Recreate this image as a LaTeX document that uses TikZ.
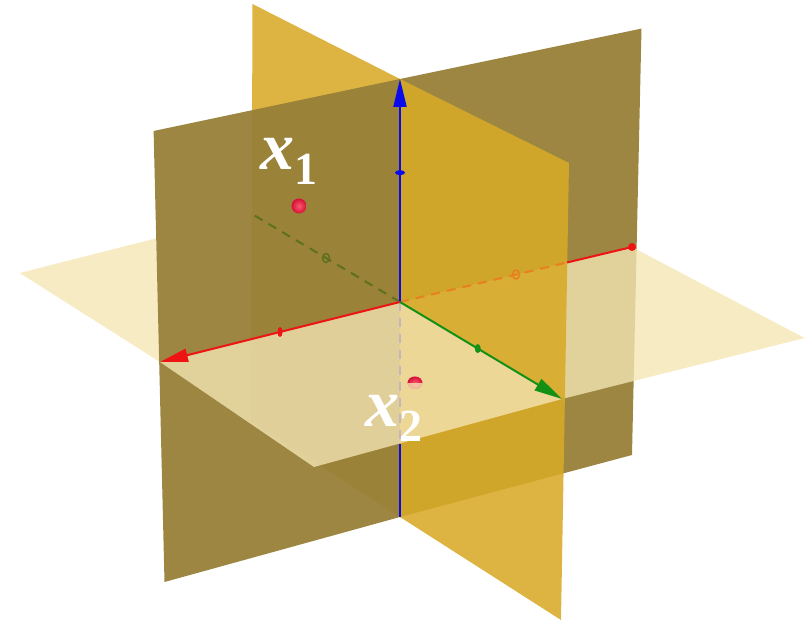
\documentclass[tikz,border=0pt]{standalone}
\usepackage{fontspec}
\setmainfont{Liberation Serif}
\usepackage{xcolor}
\usepackage{tikz}
\usetikzlibrary{arrows.meta,calc}
\definecolor{dkplane}{RGB}{151,128,56}
\definecolor{ylplane}{RGB}{216,170,39}
\definecolor{hzplane}{RGB}{245,229,180}
\definecolor{axx}{RGB}{238,20,20}
\definecolor{axxhid}{RGB}{232,128,32}
\definecolor{axy}{RGB}{20,145,20}
\definecolor{axyhid}{RGB}{92,112,30}
\definecolor{axz}{RGB}{10,10,235}
\definecolor{ptred}{RGB}{215,15,55}
\definecolor{ptlight}{RGB}{250,90,110}
\newcommand{\ptlabel}[1]{{\bfseries\itshape x}\raisebox{-0.22em}{\fontsize{46}{46}\selectfont\bfseries #1}}
\tikzset{
  dkface/.style  = {fill=dkplane, fill opacity=0.95},
  ylface/.style  = {fill=ylplane, fill opacity=0.88},
  hzface/.style  = {fill=hzplane, fill opacity=0.79},
  axis/.style    = {line width=2pt},
  tip/.style     = {-{Triangle[length=28pt,width=13pt]}},
  hidaxis/.style = {line width=2pt, dash pattern=on 9pt off 7pt},
  sphere/.style  = {inner color=ptlight, outer color=ptred},
  lbl/.style     = {text=white, font=\fontsize{68}{68}\selectfont, inner sep=0pt},
}

\begin{document}
\begin{tikzpicture}[x=1pt,y=-1pt]
  \useasboundingbox (0,0) rectangle (807,620);
  \coordinate (O) at (400,302);
  \coordinate (Ztop) at (400,79);   \coordinate (Zbot) at (400,517);
  \coordinate (Xp) at (160,362);    \coordinate (Xm) at (632,247);
  \coordinate (Yp) at (562,399);    \coordinate (Ym) at (252,214);
  \coordinate (DTL) at (153.6,131); \coordinate (DTR) at (641.5,28.6);
  \coordinate (DBR) at (632,455);   \coordinate (DBL) at (164.5,582);
  \coordinate (YTL) at (252.5,4);   \coordinate (YTR) at (569,163);
  \coordinate (YBR) at (561,620);   \coordinate (YBL) at (251,421);
  \coordinate (HL) at (19.7,273);   \coordinate (HR) at (804.5,338);
  \coordinate (HF) at (314,467);    \coordinate (HLcut) at (156.2,238.3);
  \coordinate (Xcut) at (567,262.5); \coordinate (Zcut) at (400,444);
  \coordinate (P1) at (299,206);    \coordinate (P2) at (415,383);

  \fill[dkface] (Ztop) -- (DTR) -- (DBR) -- (Zbot) -- cycle;
  \fill[ylface] (YTL) -- (Ztop) -- (Zbot) -- (YBL) -- cycle;
  \fill[hzface] (O) -- (Yp) -- (HR) -- (Xm) -- cycle;
  \fill[hzface] (HLcut) -- (HL) -- (Xp) -- cycle;
  \fill[dkface] (DTL) -- (Ztop) -- (Zbot) -- (DBL) -- cycle;
  \fill[ylface] (Ztop) -- (YTR) -- (YBR) -- (Zbot) -- cycle;

  \draw[hidaxis, axyhid] (O) -- (Ym);
  \draw[axyhid, line width=1.5pt] ($(O)!0.5!(Ym)$) ellipse (3.5 and 4.5);
  \draw[hidaxis, axxhid] (O) -- (Xcut);
  \draw[axxhid, line width=1.5pt] ($(O)!0.5!(Xm)$) ellipse (3.5 and 4.5);
  \draw[axis, axx] (Xcut) -- (Xm);
  \fill[axx] (Xm) circle (4);

  \shade[sphere] (P1) circle (7.5);
  \shade[sphere] (P2) ellipse (7.5 and 6.5);
  \draw[hidaxis, axz] (O) -- (Zcut);
  \fill[hzface] (O) -- (Xp) -- (HF) -- (Yp) -- cycle;
  \begin{scope}
    \clip (400,360) rectangle (430,383);
    \shade[sphere] (P2) ellipse (7.5 and 6.5);
  \end{scope}

  \draw[axis, axz, tip] (O) -- (Ztop);
  \draw[axis, axz] (Zcut) -- (Zbot);
  \draw[axis, axx, tip] (O) -- (Xp);
  \draw[axis, axy, tip] (O) -- (Yp);
  \fill[axz] ($(O)!0.58!(Ztop)$) ellipse (5 and 2.5);
  \fill[axx] ($(O)!0.5!(Xp)$) ellipse (2.5 and 5);
  \fill[axy] ($(O)!0.48!(Yp)$) ellipse (3 and 4.5);

  \node[lbl] (lx1) at (289,161) {\ptlabel{1}};
  \node[lbl] (lx2) at (394,418) {\ptlabel{2}};
\end{tikzpicture}
\end{document}
